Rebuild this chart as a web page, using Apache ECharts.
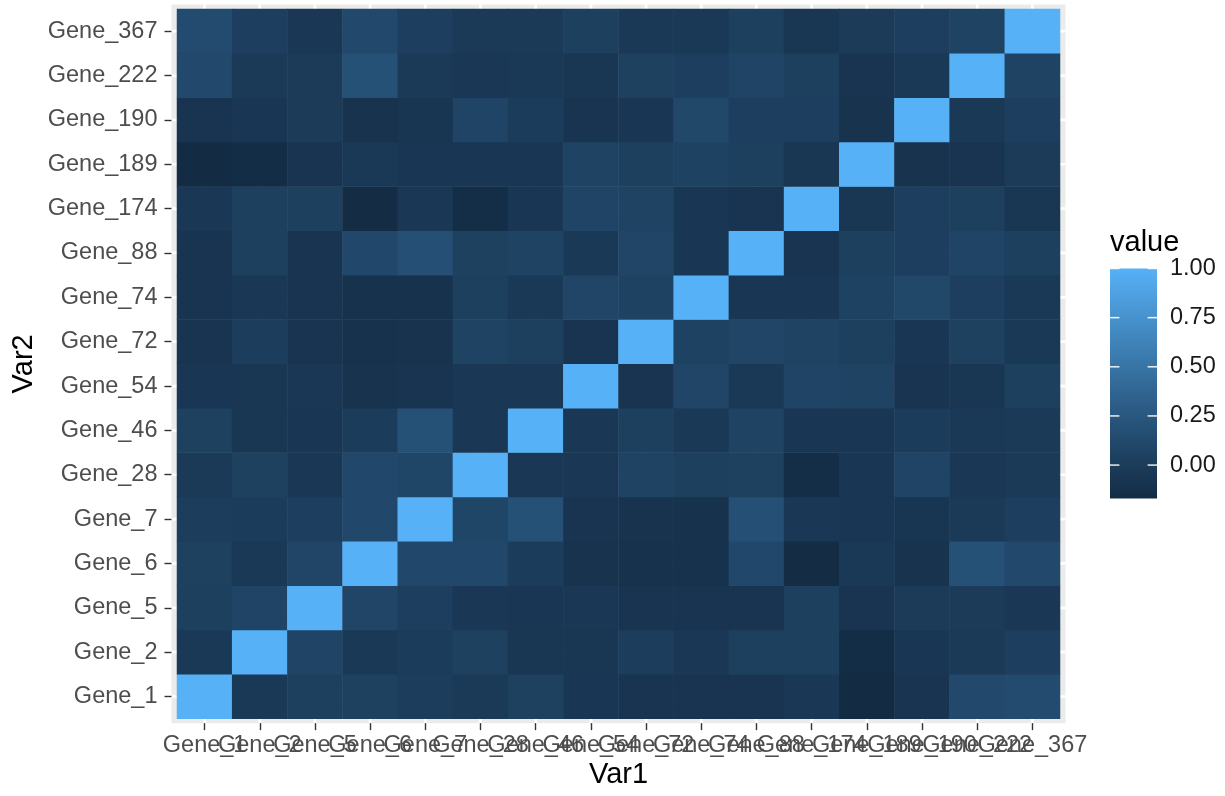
<!DOCTYPE html>
<html><head><meta charset="utf-8">
<script src="https://cdn.jsdelivr.net/npm/echarts@6/dist/echarts.min.js"></script>
<style>html,body{margin:0;padding:0;background:#fff}#c{width:1225px;height:796px}</style>
</head><body><div id="c"></div><script>
// Categories (Var1 on x, Var2 on y, bottom to top)
const genes = ['Gene_1','Gene_2','Gene_5','Gene_6','Gene_7','Gene_28','Gene_46','Gene_54','Gene_72','Gene_74','Gene_88','Gene_174','Gene_189','Gene_190','Gene_222','Gene_367'];

// Correlation values, one row per Var2 gene, columns in the order of genes
const row_Gene_1   = [1, -0.03, 0.03, 0.04, 0.01, -0.02, 0.04, -0.05, -0.08, -0.08, -0.08, -0.04, -0.17, -0.08, 0.12, 0.14];
const row_Gene_2   = [-0.03, 1, 0.07, -0.03, 0.00, 0.04, -0.06, -0.06, 0.01, -0.04, 0.03, 0.03, -0.15, -0.05, -0.02, 0.02];
const row_Gene_5   = [0.03, 0.07, 1, 0.08, 0.02, -0.04, -0.05, -0.04, -0.08, -0.08, -0.08, 0.03, -0.08, -0.01, -0.01, -0.04];
const row_Gene_6   = [0.04, -0.03, 0.08, 1, 0.11, 0.11, 0.00, -0.09, -0.10, -0.10, 0.11, -0.16, -0.03, -0.09, 0.19, 0.12];
const row_Gene_7   = [0.01, 0.00, 0.02, 0.11, 1, 0.09, 0.19, -0.08, -0.09, -0.10, 0.18, -0.04, -0.05, -0.07, -0.02, 0.02];
const row_Gene_28  = [-0.02, 0.04, -0.04, 0.11, 0.09, 1, -0.04, -0.04, 0.06, 0.03, 0.04, -0.14, -0.05, 0.07, -0.04, -0.02];
const row_Gene_46  = [0.04, -0.06, -0.05, 0.00, 0.19, -0.04, 1, -0.04, 0.03, -0.03, 0.06, -0.05, -0.05, 0.00, -0.03, -0.02];
const row_Gene_54  = [-0.05, -0.06, -0.04, -0.09, -0.08, -0.04, -0.04, 1, -0.08, 0.08, -0.03, 0.07, 0.06, -0.08, -0.06, 0.03];
const row_Gene_72  = [-0.08, 0.01, -0.08, -0.10, -0.09, 0.06, 0.03, -0.08, 1, 0.05, 0.08, 0.06, 0.03, -0.05, 0.04, -0.03];
const row_Gene_74  = [-0.08, -0.04, -0.08, -0.10, -0.10, 0.03, -0.03, 0.08, 0.05, 1, -0.05, -0.05, 0.05, 0.10, 0.02, -0.03];
const row_Gene_88  = [-0.08, 0.03, -0.08, 0.11, 0.18, 0.04, 0.06, -0.03, 0.08, -0.05, 1, -0.08, 0.03, 0.02, 0.07, 0.03];
const row_Gene_174 = [-0.04, 0.03, 0.03, -0.16, -0.04, -0.14, -0.05, 0.07, 0.06, -0.05, -0.08, 1, -0.06, 0.02, 0.03, -0.06];
const row_Gene_189 = [-0.17, -0.15, -0.08, -0.03, -0.05, -0.05, -0.05, 0.06, 0.03, 0.05, 0.03, -0.06, 1, -0.09, -0.08, -0.01];
const row_Gene_190 = [-0.08, -0.05, -0.01, -0.09, -0.07, 0.07, 0.00, -0.08, -0.05, 0.10, 0.02, 0.02, -0.09, 1, -0.03, 0.02];
const row_Gene_222 = [0.12, -0.02, -0.01, 0.19, -0.02, -0.04, -0.03, -0.06, 0.04, 0.02, 0.07, 0.03, -0.08, -0.03, 1, 0.06];
const row_Gene_367 = [0.14, 0.02, -0.04, 0.12, 0.02, -0.02, -0.02, 0.03, -0.03, -0.03, 0.03, -0.06, -0.01, 0.02, 0.06, 1];

const corrRows = [row_Gene_1, row_Gene_2, row_Gene_5, row_Gene_6, row_Gene_7, row_Gene_28, row_Gene_46, row_Gene_54,
  row_Gene_72, row_Gene_74, row_Gene_88, row_Gene_174, row_Gene_189, row_Gene_190, row_Gene_222, row_Gene_367];

// Legend breaks
const legendBreaks = [0, 0.25, 0.5, 0.75, 1];

// ggplot2 default gradient (#132B43 -> #56B1F7), Lab-interpolated stops
const rampColors = ['#132B43', '#22496C', '#336A98', '#448DC6', '#56B1F7'];

const heatData = [];
corrRows.forEach((row, r) => row.forEach((v, c) => heatData.push([c, r, v])));
let vmin = Infinity, vmax = -Infinity;
heatData.forEach(d => { vmin = Math.min(vmin, d[2]); vmax = Math.max(vmax, d[2]); });

// Layout
const TL = 177, TT = 9, TW = 883, TH = 709.7;
const mx = 0.1 * TW / 16, my = 0.1 * TH / 16;
const FONT = '"Liberation Sans", Arial, Helvetica, sans-serif';
const panelCx = TL + TW / 2, panelCy = TT + TH / 2;

const chart = echarts.init(document.getElementById('c'), null, {renderer: 'canvas'});

const option = {
  animation: false,
  backgroundColor: '#ffffff',
  grid: [
    {left: TL, top: TT, width: TW, height: TH},
    {left: 1110, top: 268.5, width: 47, height: 230}
  ],
  xAxis: [
    {
      type: 'category', data: genes, gridIndex: 0, offset: my, z: 10,
      axisLine: {show: false},
      axisTick: {show: true, alignWithLabel: true, length: 7, lineStyle: {color: '#333333', width: 1.4}},
      axisLabel: {show: true, interval: 0, margin: 10, color: '#4D4D4D', fontSize: 23.5, fontFamily: FONT},
      splitLine: {show: false}
    },
    {type: 'value', gridIndex: 1, min: 0, max: 1, show: false}
  ],
  yAxis: [
    {
      type: 'category', data: genes, gridIndex: 0, offset: mx, z: 10,
      axisLine: {show: false},
      axisTick: {show: true, alignWithLabel: true, length: 7, lineStyle: {color: '#333333', width: 1.4}},
      axisLabel: {show: true, interval: 0, margin: 14, color: '#4D4D4D', fontSize: 23.5, fontFamily: FONT},
      splitLine: {show: false}
    },
    {
      type: 'value', gridIndex: 1, min: vmin, max: vmax, position: 'right',
      axisLine: {show: false},
      axisTick: {show: false},
      axisLabel: {show: true, customValues: legendBreaks, formatter: v => v.toFixed(2), margin: 13, color: '#1A1A1A', fontSize: 23.5, fontFamily: FONT},
      splitLine: {show: false}
    }
  ],
  visualMap: {
    type: 'continuous', show: false, min: vmin, max: vmax, seriesIndex: 1, dimension: 2,
    inRange: {color: rampColors}
  },
  series: [
    {
      type: 'custom', xAxisIndex: 0, yAxisIndex: 0, z: 1, silent: true,
      data: genes.map((g, i) => [i, i]),
      renderItem: function (params, api) {
        const i = api.value(0);
        const p = api.coord([i, i]);
        const cs = params.coordSys;
        const l = cs.x - mx, r = cs.x + cs.width + mx, t = cs.y - my, b = cs.y + cs.height + my;
        const children = [];
        if (params.dataIndex === 0) {
          children.push({type: 'rect', shape: {x: l, y: t, width: r - l, height: b - t}, style: {fill: '#EBEBEB'}});
        }
        children.push({type: 'line', shape: {x1: p[0], y1: t, x2: p[0], y2: b}, style: {stroke: '#ffffff', lineWidth: 2.7}});
        children.push({type: 'line', shape: {x1: l, y1: p[1], x2: r, y2: p[1]}, style: {stroke: '#ffffff', lineWidth: 2.7}});
        return {type: 'group', children: children};
      }
    },
    {
      type: 'heatmap', xAxisIndex: 0, yAxisIndex: 0, z: 2,
      data: heatData,
      itemStyle: {borderWidth: 0},
      emphasis: {disabled: true}
    },
    {
      type: 'custom', xAxisIndex: 1, yAxisIndex: 1, z: 2, silent: true,
      data: [[0, vmin, 1, vmax]],
      renderItem: function (params, api) {
        const p0 = api.coord([api.value(0), api.value(1)]);
        const p1 = api.coord([api.value(2), api.value(3)]);
        const w = p1[0] - p0[0];
        const tl = w / 5;
        const children = [{
          type: 'rect',
          shape: {x: p0[0], y: p1[1], width: w, height: p0[1] - p1[1]},
          style: {
            fill: new echarts.graphic.LinearGradient(0, 1, 0, 0,
              rampColors.map((c, k) => ({offset: k / (rampColors.length - 1), color: c})))
          }
        }];
        legendBreaks.forEach(v => {
          const y = api.coord([0, v])[1];
          children.push({type: 'line', shape: {x1: p0[0], y1: y, x2: p0[0] + tl, y2: y}, style: {stroke: '#ffffff', lineWidth: 1.5, opacity: 0.9}});
          children.push({type: 'line', shape: {x1: p1[0] - tl, y1: y, x2: p1[0], y2: y}, style: {stroke: '#ffffff', lineWidth: 1.5, opacity: 0.9}});
        });
        return {type: 'group', children: children};
      }
    }
  ],
  graphic: [
    {type: 'text', x: panelCx, y: 775, silent: true,
      style: {text: 'Var1', fontSize: 29, fontFamily: FONT, fill: '#000000', align: 'center', verticalAlign: 'middle'}},
    {type: 'text', x: 24, y: panelCy, rotation: Math.PI / 2, silent: true,
      style: {text: 'Var2', fontSize: 29, fontFamily: FONT, fill: '#000000', align: 'center', verticalAlign: 'middle'}},
    {type: 'text', x: 1110, y: 243, silent: true,
      style: {text: 'value', fontSize: 29, fontFamily: FONT, fill: '#000000', align: 'left', verticalAlign: 'middle'}}
  ]
};
chart.setOption(option);
</script></body></html>
